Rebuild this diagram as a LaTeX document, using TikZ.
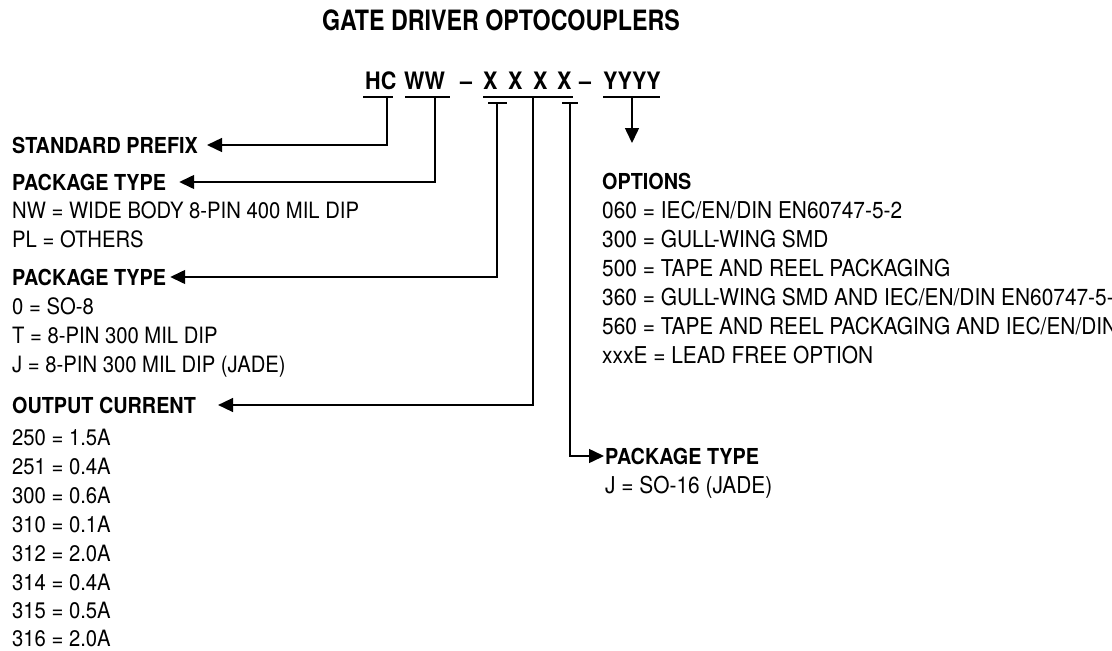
\documentclass[tikz,border=0pt]{standalone}
\usepackage{fontspec}
\setmainfont{TeX Gyre Heros}[FakeStretch=0.9]
\newfontfamily\titlefont{TeX Gyre Heros}[FakeStretch=0.83]
\usetikzlibrary{arrows.meta}
\begin{document}
\begin{tikzpicture}[x=1pt,y=-1pt,
  body/.style={anchor=base west,inner sep=0pt,font=\fontsize{22.5}{22.5}\selectfont},
  rbody/.style={anchor=base west,inner sep=0pt,font=\fontsize{23.2}{23.2}\selectfont},
  head/.style={anchor=base west,inner sep=0pt,font=\fontsize{22}{22}\selectfont\bfseries},
  hdr/.style={anchor=base west,inner sep=0pt,font=\fontsize{24}{24}\selectfont\bfseries},
  ttl/.style={anchor=base,inner sep=0pt,font=\titlefont\fontsize{28}{28}\selectfont\bfseries},
  ln/.style={line width=1.5pt},
  conn/.style={line width=1.5pt,-{Triangle[length=15pt,width=14pt]}}]
\useasboundingbox (0,0) rectangle (1112,651);
\clip (0,0) rectangle (1112,651);
% title
\node[ttl] (title) at (501,30) {GATE DRIVER OPTOCOUPLERS};
% header
\node[hdr] (hc) at (365,89) {HC};
\node[hdr] (ww) at (404,89) {WW};
\node[hdr] (d1) at (460,89) {--};
\node[hdr] (x1) at (483,89) {X};
\node[hdr] (x2) at (508,89) {X};
\node[hdr] (x3) at (533,89) {X};
\node[hdr] (x4) at (557,89) {X};
\node[hdr] (d2) at (579,89) {--};
\node[hdr] (yy) at (603,89) {YYYY};
% underlines
\draw[ln] (363,97) -- (393,97);
\draw[ln] (405,97) -- (450,97);
\draw[ln] (483,97) -- (573,97);
\draw[ln] (603,97) -- (660,97);
\draw[ln] (488,103) -- (507,103);
\draw[ln] (562,103) -- (578,103);
% connector origins
\coordinate (c0) at (387,97);
\coordinate (c1) at (435,97);
\coordinate (c2) at (497,103);
\coordinate (c3) at (533,97);
\coordinate (c4) at (570,103);
\coordinate (c5) at (632,97);
\coordinate (c5e) at (632,143);
% left column
\node[head] (sp) at (12,153) {STANDARD PREFIX};
\node[head] (pt1) at (12,190) {PACKAGE TYPE};
\node[body] (nw) at (12,218) {NW = WIDE BODY 8-PIN 400 MIL DIP};
\node[body] (pl) at (12,247) {PL = OTHERS};
\node[head] (pt2) at (12,285) {PACKAGE TYPE};
\node[body] (s0) at (12,314) {0 = SO-8};
\node[body] (s1) at (12,343) {T = 8-PIN 300 MIL DIP};
\node[body] (s2) at (12,372) {J = 8-PIN 300 MIL DIP (JADE)};
\node[head] (oc) at (12,413) {OUTPUT CURRENT};
\node[body] (o1) at (12,445) {250 = 1.5A};
\node[body] (o2) at (12,474) {251 = 0.4A};
\node[body] (o3) at (12,503) {300 = 0.6A};
\node[body] (o4) at (12,532) {310 = 0.1A};
\node[body] (o5) at (12,561) {312 = 2.0A};
\node[body] (o6) at (12,590) {314 = 0.4A};
\node[body] (o7) at (12,618) {315 = 0.5A};
\node[body] (o8) at (12,646) {316 = 2.0A};
% right column
\node[head] (op) at (602,189) {OPTIONS};
\node[rbody] (p1) at (602,218) {060 = IEC/EN/DIN EN60747-5-2};
\node[rbody] (p2) at (602,247) {300 = GULL-WING SMD};
\node[rbody] (p3) at (602,276) {500 = TAPE AND REEL PACKAGING};
\node[rbody] (p4) at (602,305) {360 = GULL-WING SMD AND IEC/EN/DIN EN60747-5-2};
\node[rbody] (p5) at (602,334) {560 = TAPE AND REEL PACKAGING AND IEC/EN/DIN EN60747-5-2};
\node[rbody] (p6) at (602,363) {xxxE = LEAD FREE OPTION};
\node[head] (pt3) at (605,464) {PACKAGE TYPE};
\node[rbody] (j1) at (605,493) {J = SO-16 (JADE)};
% connectors
\draw[conn] (c0) |- ([xshift=9pt,yshift=8pt]sp.base east);
\draw[conn] (c1) |- ([xshift=13pt,yshift=8pt]pt1.base east);
\draw[conn] (c2) |- ([xshift=4pt,yshift=8pt]pt2.base east);
\draw[conn] (c3) |- ([xshift=22pt,yshift=8pt]oc.base east);
\draw[conn] (c4) |- ([xshift=-1pt,yshift=8pt]pt3.base west);
\draw[conn] (c5) -- (c5e);
\end{tikzpicture}
\end{document}
